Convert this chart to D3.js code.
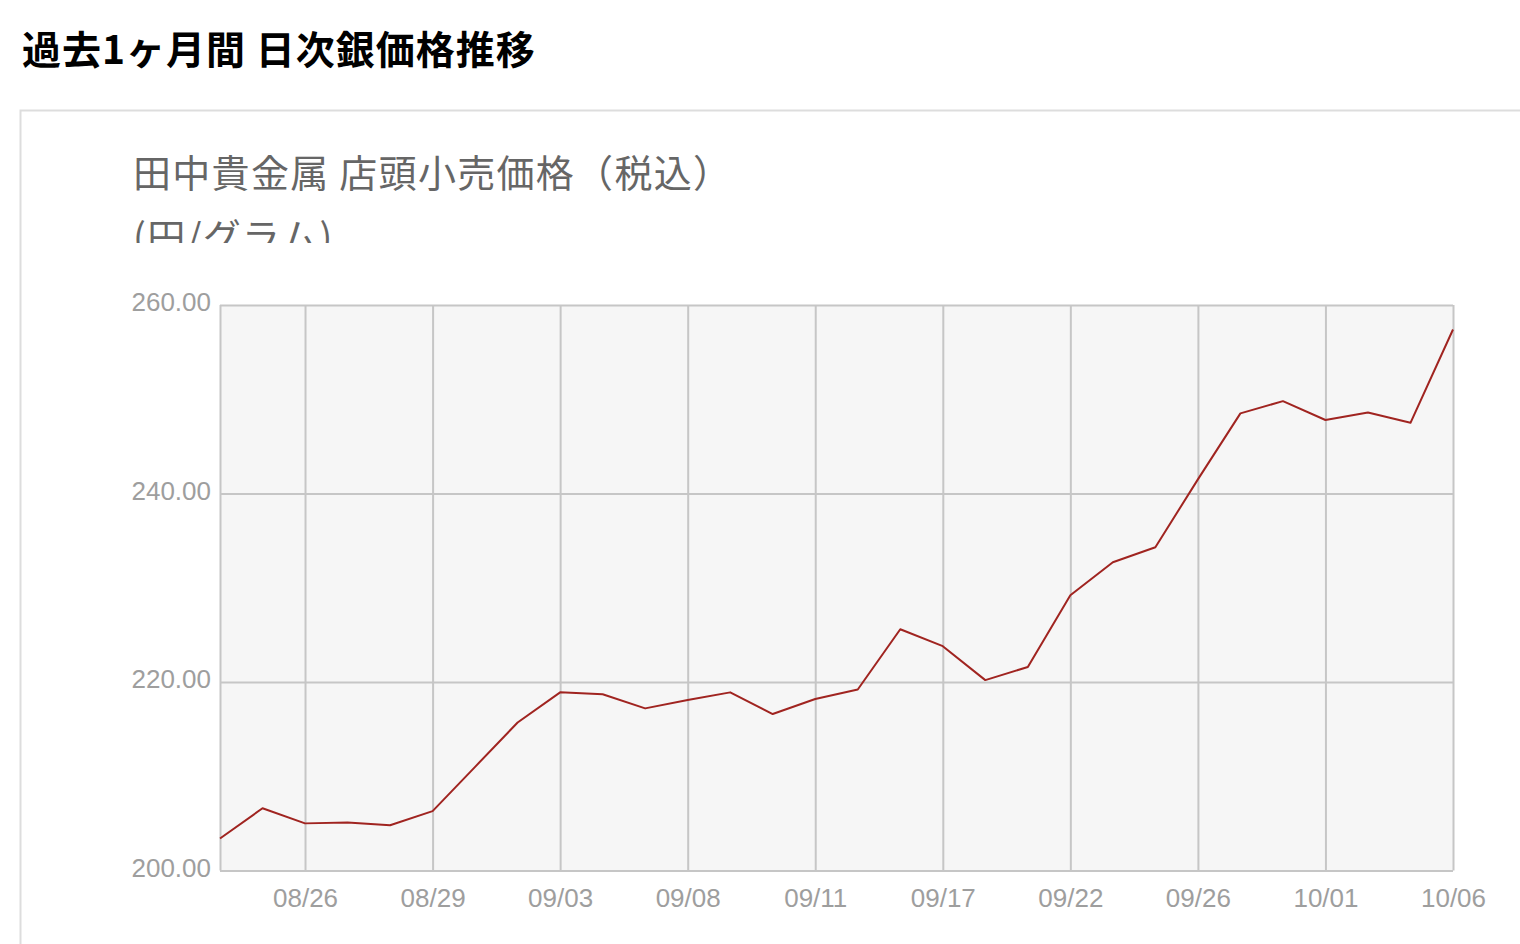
<!DOCTYPE html>
<html>
<head>
<meta charset="utf-8">
<script src="https://cdn.jsdelivr.net/npm/d3@7/dist/d3.min.js"></script>
<style>
  html, body { margin: 0; padding: 0; background: #fff; }
  svg { display: block; }
</style>
</head>
<body>
<svg id="chart" width="1520" height="944"></svg>
<script>
// ---- data ----
const pageTitle = "過去1ヶ月間 日次銀価格推移";
const chartTitle = "田中貴金属 店頭小売価格（税込）";
const unitLabel = "(円/グラム)";
const dates = [
  "08/22","08/25","08/26","08/27","08/28","08/29",
  "09/01","09/02","09/03","09/04","09/05","09/08",
  "09/09","09/10","09/11","09/12","09/16","09/17",
  "09/18","09/19","09/22","09/24","09/25","09/26",
  "09/29","09/30","10/01","10/02","10/03","10/06"
];
const prices = [
  203.4, 206.6, 205.0, 205.1, 204.8, 206.3,
  211.0, 215.7, 218.9, 218.7, 217.2, 218.1,
  218.9, 216.6, 218.2, 219.2, 225.6, 223.8,
  220.2, 221.6, 229.2, 232.7, 234.3, 241.5,
  248.5, 249.8, 247.8, 248.6, 247.5, 257.4
];
const tickDates = ["08/26","08/29","09/03","09/08","09/11","09/17","09/22","09/26","10/01","10/06"];
const yTicks = [200, 220, 240, 260];
const yDomain = [200, 260];

// ---- layout ----
const svg = d3.select("#chart");
const plot = { left: 220, right: 1453, top: 305, bottom: 870.5 };
const gridColor = "#c6c6c6";

// page title
svg.append("text")
  .attr("x", 22).attr("y", 64)
  .attr("font-family", "'Noto Sans CJK JP', sans-serif")
  .attr("font-weight", 700)
  .attr("font-size", 39)
  .attr("letter-spacing", 1)
  .attr("fill", "#000")
  .text(pageTitle);

// container border
svg.append("path")
  .attr("d", `M20.5,944 V110.5 H1520`)
  .attr("fill", "none")
  .attr("stroke", "#dddddd")
  .attr("stroke-width", 2);

// chart title (two lines, second clipped)
const defs = svg.append("defs");
defs.append("clipPath").attr("id", "titleClip")
  .append("rect").attr("x", 120).attr("y", 130).attr("width", 700).attr("height", 113);
const tg = svg.append("g").attr("clip-path", "url(#titleClip)")
  .attr("font-family", "'Noto Sans CJK JP', sans-serif")
  .attr("font-size", 38)
  .attr("letter-spacing", 1.3)
  .attr("fill", "#666666");
tg.append("text").attr("x", 133).attr("y", 187).text(chartTitle);
tg.append("text").attr("x", 133).attr("y", 251).text(unitLabel);

// scales
const x = d3.scalePoint().domain(dates).range([plot.left, plot.right]);
const y = d3.scaleLinear().domain(yDomain).range([plot.bottom, plot.top]);

// plot background
svg.append("rect")
  .attr("x", plot.left).attr("y", plot.top)
  .attr("width", plot.right - plot.left).attr("height", plot.bottom - plot.top)
  .attr("fill", "#f6f6f6");

// horizontal grid
svg.append("g")
  .attr("transform", `translate(${plot.left},0)`)
  .call(d3.axisLeft(y).tickValues(yTicks).tickSize(-(plot.right - plot.left)).tickFormat(""))
  .call(g => g.select(".domain").remove())
  .call(g => g.selectAll("line").attr("stroke", gridColor).attr("stroke-width", 2));

// vertical grid (left edge + labelled dates)
svg.append("g")
  .attr("transform", `translate(0,${plot.bottom})`)
  .call(d3.axisBottom(x).tickValues([dates[0], ...tickDates]).tickSize(-(plot.bottom - plot.top)).tickFormat(""))
  .call(g => g.select(".domain").remove())
  .call(g => g.selectAll("line").attr("stroke", gridColor).attr("stroke-width", 2));

// y labels
svg.append("g")
  .attr("transform", `translate(${plot.left - 6},0)`)
  .call(d3.axisLeft(y).tickValues(yTicks).tickSize(0).tickFormat(d3.format(".2f")))
  .call(g => g.select(".domain").remove())
  .call(g => g.selectAll("text")
    .attr("font-family", "'Liberation Sans', Arial, sans-serif")
    .attr("font-size", 26)
    .attr("fill", "#9e9e9e")
    .attr("dy", "0.22em"));

// x labels
svg.append("g")
  .attr("transform", `translate(0,${plot.bottom})`)
  .call(d3.axisBottom(x).tickValues(tickDates).tickSize(0))
  .call(g => g.select(".domain").remove())
  .call(g => g.selectAll("text")
    .attr("font-family", "'Liberation Sans', Arial, sans-serif")
    .attr("font-size", 26)
    .attr("fill", "#9e9e9e")
    .attr("y", 0)
    .attr("dy", "1.4em"));

// line
svg.append("path")
  .datum(prices)
  .attr("fill", "none")
  .attr("stroke", "#a02420")
  .attr("stroke-width", 2)
  .attr("stroke-linejoin", "round")
  .attr("d", d3.line().x((d, i) => x(dates[i])).y(d => y(d)));
</script>
</body>
</html>
